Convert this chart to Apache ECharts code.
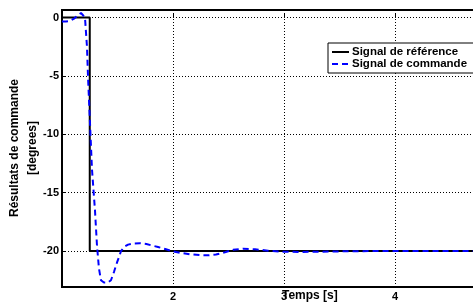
<!DOCTYPE html>
<html>
<head>
<meta charset="utf-8">
<script src="https://cdn.jsdelivr.net/npm/echarts@6/dist/echarts.min.js"></script>
<style>
  html, body { margin: 0; padding: 0; background: #fff; }
  #chart { width: 473px; height: 306px; }
</style>
</head>
<body>
<div id="chart"></div>
<script>
// Résultats de commande - signal de référence vs signal de commande

const seriesNames = ['Signal de référence', 'Signal de commande'];

// signal de référence : échelon 0 -> -20 à t = 1.25 s
const refTime = [1.0, 1.25, 1.25, 5.0];
const refValue = [0, 0, -20, -20];

// signal de commande
const cmdTime = [
  1.0, 1.036, 1.072, 1.108, 1.144, 1.171, 1.189, 1.207, 1.225, 1.234,
  1.252, 1.27, 1.297, 1.315, 1.333, 1.351, 1.378, 1.414, 1.441, 1.468,
  1.495, 1.514, 1.532, 1.559, 1.595, 1.64, 1.7, 1.76, 1.82, 1.865,
  1.937, 1.99, 2.063, 2.153, 2.243, 2.315, 2.387, 2.468, 2.541, 2.631,
  2.739, 2.856, 2.98, 3.144, 3.324, 3.55, 3.865, 4.3, 5.0
];
const cmdValue = [
  -0.35, -0.35, -0.3, -0.1, 0.2, 0.38, 0.3, 0.0, -2.5, -5,
  -9, -13, -16.5, -19.5, -21.5, -22.5, -22.7, -22.7, -22.5, -21.8,
  -21.0, -20.5, -20.0, -19.65, -19.45, -19.36, -19.33, -19.4, -19.55, -19.65,
  -19.85, -20.0, -20.15, -20.28, -20.35, -20.37, -20.3, -20.1, -19.9, -19.8,
  -19.85, -19.97, -20.05, -20.08, -20.06, -20.02, -20.0, -20.0, -20.0
];

const xRange = [1, 5];
const yRange = [-23.08, 0.64];

const yTitle = ['Résultats de commande', '[degrees]'];
const xTitle = 'Temps [s]';

const myChart = echarts.init(document.getElementById('chart'));

const toPairs = (xs, ys) => xs.map((x, i) => [x, ys[i]]);

const titleFont = 'bold 12px "Liberation Sans"';

const option = {
  animation: false,
  textStyle: { fontFamily: 'Liberation Sans', fontWeight: 'bold' },
  grid: {
    left: 62,
    top: 10,
    bottom: 19,
    right: -33,
    show: true,
    borderColor: '#000',
    borderWidth: 2,
    outerBoundsMode: 'none',
  },
  legend: {
    orient: 'vertical',
    left: 328,
    top: 43,
    padding: [3, 20, 3, 3],
    itemGap: 0,
    itemWidth: 17,
    itemHeight: 8,
    backgroundColor: '#fff',
    borderColor: '#000',
    borderWidth: 1,
    borderRadius: 0,
    itemStyle: { opacity: 0 },
    textStyle: {
      color: '#000',
      fontSize: 11.5,
      fontWeight: 'bold',
      fontFamily: 'Liberation Sans',
      lineHeight: 12,
      padding: [0, 0, 0, -2],
    },
    data: seriesNames,
  },
  xAxis: {
    type: 'value',
    min: xRange[0],
    max: xRange[1],
    splitNumber: 4,
    axisLine: { show: false },
    axisTick: { show: true, inside: true, length: 4, lineStyle: { color: '#000', width: 1 } },
    axisLabel: {
      showMinLabel: false,
      color: '#000',
      fontSize: 11,
      fontWeight: 'bold',
      fontFamily: 'Liberation Sans',
      margin: 4,
    },
    splitLine: { show: true, lineStyle: { color: '#000', width: 1, type: [1, 2] } },
  },
  yAxis: {
    type: 'value',
    min: yRange[0],
    max: yRange[1],
    splitNumber: 5,
    axisLine: { show: false },
    axisTick: { show: true, inside: true, length: 4, lineStyle: { color: '#000', width: 1 } },
    axisLabel: {
      showMinLabel: false,
      showMaxLabel: false,
      color: '#000',
      fontSize: 11,
      fontWeight: 'bold',
      fontFamily: 'Liberation Sans',
      margin: 3,
    },
    splitLine: { show: true, lineStyle: { color: '#000', width: 1, type: [1, 2] } },
  },
  graphic: [
    {
      type: 'text',
      x: 15,
      y: 148,
      rotation: Math.PI / 2,
      style: {
        text: yTitle[0],
        fill: '#000',
        font: titleFont,
        align: 'center',
        verticalAlign: 'middle',
      },
    },
    {
      type: 'text',
      x: 33,
      y: 148,
      rotation: Math.PI / 2,
      style: {
        text: yTitle[1],
        fill: '#000',
        font: titleFont,
        align: 'center',
        verticalAlign: 'middle',
      },
    },
    {
      type: 'text',
      left: 282,
      top: 290,
      z: 100,
      style: {
        text: xTitle,
        fill: '#000',
        font: titleFont,
      },
    },
  ],
  series: [
    {
      name: seriesNames[0],
      type: 'line',
      symbol: 'none',
      data: toPairs(refTime, refValue),
      lineStyle: { color: '#000', width: 2 },
      itemStyle: { color: '#000' },
      z: 2,
    },
    {
      name: seriesNames[1],
      type: 'line',
      symbol: 'none',
      data: toPairs(cmdTime, cmdValue),
      lineStyle: { color: '#0000ff', width: 2, type: [6, 4] },
      itemStyle: { color: '#0000ff' },
      z: 3,
    },
  ],
};

myChart.setOption(option);
</script>
</body>
</html>
